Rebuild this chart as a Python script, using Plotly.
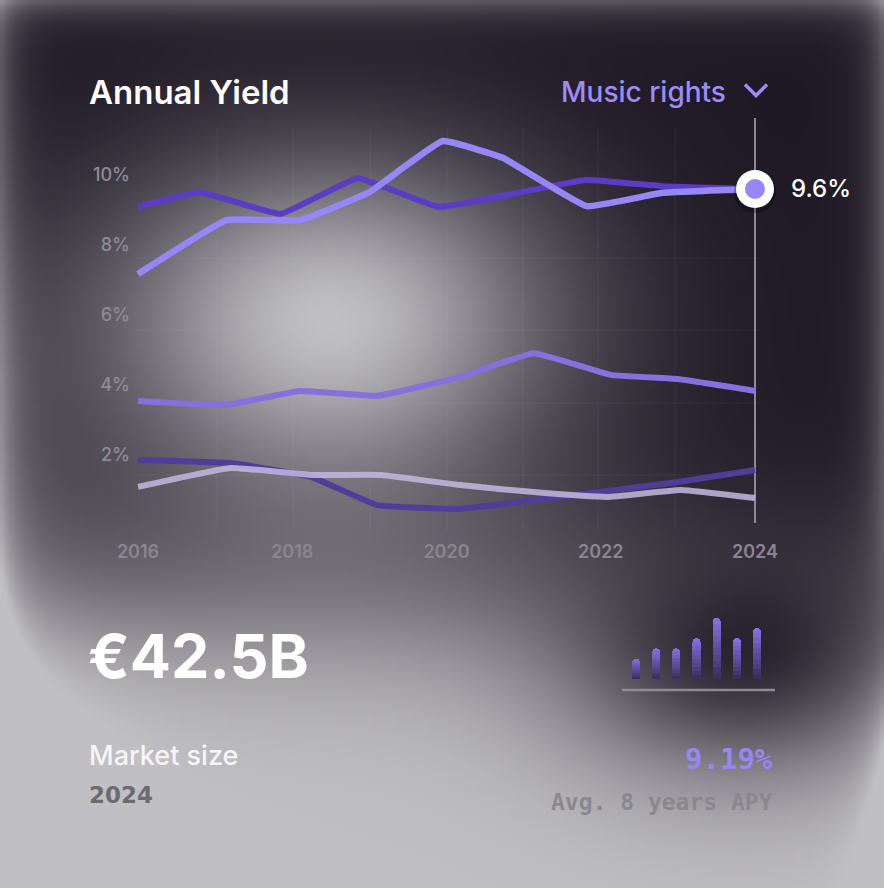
import base64
import struct
import zlib

import numpy as np
import plotly.graph_objects as go

W, H = 884, 888

# ---------------- data ----------------
year_ticks = [2016, 2018, 2020, 2022, 2024]
pct_ticks = [2, 4, 6, 8, 10]

a_x = [2016.0, 2016.8, 2017.85, 2018.85, 2019.9, 2021.8, 2022.8, 2024.0]
a_y = [9.09, 9.51, 8.89, 9.91, 9.09, 9.86, 9.68, 9.6]

b_x = [2016.0, 2017.15, 2018.1, 2019.0, 2019.95, 2020.73, 2021.82, 2022.8, 2024.0]
b_y = [7.17, 8.71, 8.71, 9.51, 10.97, 10.49, 9.11, 9.49, 9.6]

c_x = [2016.0, 2017.15, 2018.1, 2019.1, 2020.18, 2021.13, 2022.13, 2023.0, 2024.0]
c_y = [3.54, 3.43, 3.83, 3.69, 4.23, 4.91, 4.29, 4.17, 3.83]

d_x = [2016.0, 2017.2, 2018.25, 2019.1, 2020.18, 2021.13, 2023.0, 2024.0]
d_y = [1.86, 1.77, 1.37, 0.57, 0.46, 0.71, 1.23, 1.57]

e_x = [2016.0, 2017.2, 2018.25, 2019.15, 2020.18, 2021.13, 2022.08, 2023.04, 2024.0]
e_y = [1.09, 1.63, 1.43, 1.43, 1.14, 0.94, 0.80, 1.00, 0.77]

highlight_x = 2024
highlight_y = 9.6
highlight_label = "9.6%"

apy_bars = [2, 3, 3, 4, 6, 4, 5]

title_text = "Annual Yield"
selector_text = "Music rights"
big_value = "€42.5B"
big_label = "Market size"
big_year = "2024"
apy_value = "9.19%"
apy_label = "Avg. 8 years APY"

# ---------------- helpers ----------------
def px_x(px):
    return px / W


def px_y(py):
    return 1 - py / H


def png_uri(arr):
    h, w, _ = arr.shape
    arr = np.clip(arr, 0, 255).astype(np.uint8)
    raw = b"".join(b"\x00" + arr[i].tobytes() for i in range(h))

    def chunk(t, d):
        return struct.pack(">I", len(d)) + t + d + struct.pack(">I", zlib.crc32(t + d) & 0xFFFFFFFF)

    png = (b"\x89PNG\r\n\x1a\n"
           + chunk(b"IHDR", struct.pack(">IIBBBBB", w, h, 8, 2, 0, 0, 0))
           + chunk(b"IDAT", zlib.compress(raw, 9))
           + chunk(b"IEND", b""))
    return "data:image/png;base64," + base64.b64encode(png).decode()


def background(w=221, h=222):
    xs = (np.arange(w) + 0.5) * W / w
    ys = (np.arange(h) + 0.5) * H / h
    X, Y = np.meshgrid(xs, ys)
    sy = np.where(Y < 320, 115.0, 125.0)
    glow = np.exp(-(((X - 330) / 160) ** 2 / 2 + ((Y - 320) / sy) ** 2 / 2))
    bottom = 1 / (1 + np.exp(-(Y - 612) / 45))
    notch = 0.92 * np.exp(-(((X - 745) / 125) ** 2 / 2 + ((Y - 645) / 90) ** 2 / 2))
    bottom = bottom * (1 - notch)
    left = 0.30 * np.exp(-X / 75) / (1 + np.exp(-(Y - 330) / 70))
    band = 0.12 * np.exp(-((Y - 540) / 60) ** 2 / 2) * np.exp(-((X - 350) / 260) ** 2 / 2)
    right_edge = 0.40 * np.exp(-(W - X) / 16) * (1 - 0.7 * np.exp(-((Y - 640) / 70) ** 2 / 2))
    edge = 0.40 * (np.exp(-Y / 16) + np.exp(-X / 18)) + right_edge
    L = np.clip(glow + bottom + edge + left + band, 0, 1)
    dark = np.array([31, 25, 37], dtype=float)
    light = np.array([192, 191, 195], dtype=float)
    return dark + L[..., None] * (light - dark)


# ---------------- figure ----------------
fig = go.Figure()

line_specs = [
    (a_x, a_y, "#5b3cc4", 6),
    (d_x, d_y, "#4f3e98", 6),
    (c_x, c_y, "#8670dc", 6),
    (e_x, e_y, "rgba(194,185,224,0.85)", 6),
    (b_x, b_y, "#9686f8", 6.5),
]
for xs, ys, col, wd in line_specs:
    fig.add_trace(go.Scatter(x=xs, y=ys, mode="lines",
                             line=dict(color=col, width=wd, shape="spline", smoothing=0.3),
                             hoverinfo="skip", showlegend=False))

# highlight marker (shadow, white ring, purple dot)
fig.add_trace(go.Scatter(x=[highlight_x], y=[highlight_y - 3 / 35], mode="markers",
                         marker=dict(size=42, color="rgba(0,0,0,0.28)"),
                         cliponaxis=False, hoverinfo="skip", showlegend=False))
fig.add_trace(go.Scatter(x=[highlight_x], y=[highlight_y], mode="markers",
                         marker=dict(size=38, color="#ffffff"),
                         cliponaxis=False, hoverinfo="skip", showlegend=False))
fig.add_trace(go.Scatter(x=[highlight_x], y=[highlight_y], mode="markers",
                         marker=dict(size=20, color="#9686f8"),
                         cliponaxis=False, hoverinfo="skip", showlegend=False))

# mini bar chart (stacked segments to fake a vertical gradient)
n_seg = 10
c_bot = np.array([55, 45, 88])
c_top = np.array([134, 114, 230])
bar_idx = list(range(len(apy_bars)))
for k in range(n_seg):
    t = (k + 0.5) / n_seg
    col = c_bot + (c_top - c_bot) * t
    fig.add_trace(go.Bar(x=bar_idx, y=[v / n_seg for v in apy_bars],
                         width=0.4, marker=dict(color="rgb(%d,%d,%d)" % tuple(col), line=dict(width=0)),
                         xaxis="x2", yaxis="y2", hoverinfo="skip", showlegend=False))

# ---------------- shapes ----------------
shapes = []
for gx in [217, 293, 370, 447, 523, 598, 675]:
    shapes.append(dict(type="line", xref="paper", yref="paper",
                       x0=px_x(gx), x1=px_x(gx), y0=px_y(530), y1=px_y(128),
                       line=dict(color="rgba(205,198,235,0.05)", width=1.5), layer="below"))
for gy in [258, 330, 403, 475]:
    shapes.append(dict(type="line", xref="paper", yref="paper",
                       x0=px_x(135), x1=px_x(760), y0=px_y(gy), y1=px_y(gy),
                       line=dict(color="rgba(205,198,235,0.05)", width=1.5), layer="below"))
# vertical cursor line at highlighted year
shapes.append(dict(type="line", xref="x", yref="paper", x0=highlight_x, x1=highlight_x,
                   y0=px_y(523), y1=px_y(118),
                   line=dict(color="#8e8994", width=2), layer="below"))
# chevron next to selector
shapes.append(dict(type="path", xref="paper", yref="paper",
                   path="M %f %f L %f %f L %f %f" % (px_x(745), px_y(84.5), px_x(756), px_y(95.5),
                                                     px_x(767), px_y(84.5)),
                   line=dict(color="#9d8cf8", width=3.5)))
# mini chart baseline
shapes.append(dict(type="line", xref="paper", yref="paper",
                   x0=px_x(622), x1=px_x(775), y0=px_y(690), y1=px_y(690),
                   line=dict(color="rgba(150,146,156,0.9)", width=2.5)))

# ---------------- annotations ----------------
ann = []


def text(s, x, y, size, color, family="Inter", weight=400, xanchor="left"):
    ann.append(dict(text=s, xref="paper", yref="paper", x=px_x(x), y=px_y(y),
                    xanchor=xanchor, yanchor="middle", showarrow=False,
                    font=dict(family=family, size=size, color=color, weight=weight)))


text(title_text, 87, 92, 33, "#ffffff", weight=600)
text(selector_text, 728, 92, 28, "#9d8cf8", weight=500, xanchor="right")
text(big_value, 86, 656, 61, "#ffffff", weight=700)
text(big_label, 87, 755, 27, "#f6f4f8", weight=500)
text(big_year, 87, 795, 23, "#6d6b72", family="DejaVu Sans", weight=700)
text(apy_value, 775, 759, 29, "#9686f0", family="DejaVu Sans Mono", weight=700, xanchor="right")
text(apy_label, 775, 802, 23, "#8a888e", family="DejaVu Sans Mono", weight=700, xanchor="right")

ann.append(dict(text=highlight_label, xref="x", yref="y", x=highlight_x, y=highlight_y,
                xanchor="left", yanchor="middle", xshift=34, showarrow=False,
                font=dict(family="Inter", size=24, color="#ffffff", weight=500)))

# ---------------- layout ----------------
x_left_px, x_right_px = 132, 790
y_top_px, y_bot_px = 118, 530
px_per_year = (755 - 138) / 8
px_per_pct = 35.0

fig.update_layout(
    width=W, height=H,
    autosize=False,
    margin=dict(l=0, r=0, t=0, b=0, pad=0),
    paper_bgcolor="#241f29",
    plot_bgcolor="rgba(0,0,0,0)",
    barmode="stack",
    barcornerradius=4,
    showlegend=False,
    shapes=shapes,
    annotations=ann,
    images=[dict(source=png_uri(background()), xref="paper", yref="paper",
                 x=0, y=1, sizex=1, sizey=1, xanchor="left", yanchor="top",
                 sizing="stretch", layer="below")],
    xaxis=dict(domain=[px_x(x_left_px), px_x(x_right_px)],
               range=[2016 - (138 - x_left_px) / px_per_year, 2024 + (x_right_px - 755) / px_per_year],
               tickvals=year_ticks, ticktext=[str(v) for v in year_ticks],
               showgrid=False, zeroline=False, showline=False, ticks="",
               automargin=False, ticklabelstandoff=9,
               tickfont=dict(family="Inter", size=18, color="#8a8690", weight=600)),
    yaxis=dict(domain=[px_y(y_bot_px), px_y(y_top_px)],
               range=[(525 - y_bot_px) / px_per_pct, (525 - y_top_px) / px_per_pct],
               tickvals=pct_ticks, ticktext=["%d%%" % v for v in pct_ticks],
               showgrid=False, zeroline=False, showline=False, ticks="",
               automargin=False, ticklabelstandoff=1,
               tickfont=dict(family="Inter", size=18, color="#8f8b96", weight=500)),
    xaxis2=dict(domain=[px_x(626), px_x(767)], range=[-0.5, len(apy_bars) - 0.5],
                visible=False, anchor="y2", automargin=False),
    yaxis2=dict(domain=[px_y(679), px_y(679 - 7 * 10.2)], range=[0, 7],
                visible=False, anchor="x2", automargin=False),
)

fig.write_html("out.html", config={"displayModeBar": False},
               post_script="document.body.style.margin='0';")
